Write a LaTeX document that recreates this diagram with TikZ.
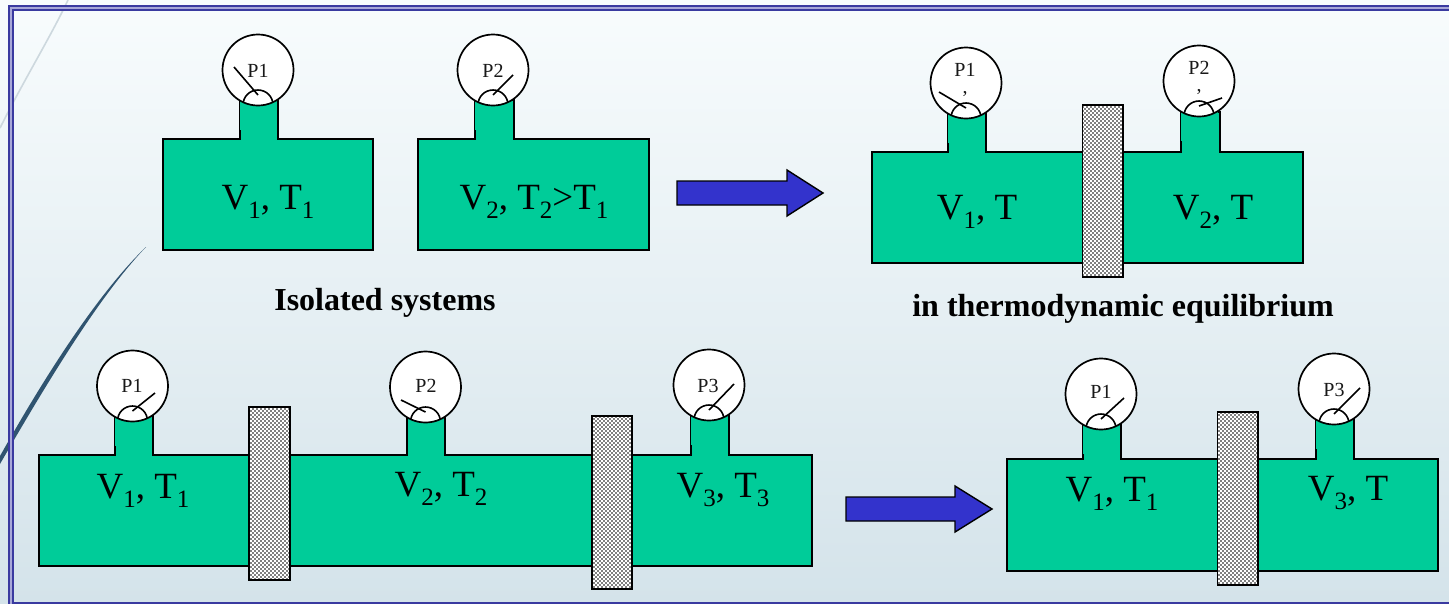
\documentclass[tikz,border=0pt]{standalone}
\usepackage{fontspec}
\setmainfont{Liberation Serif}
\usetikzlibrary{patterns}
\definecolor{gasgreen}{HTML}{00CC99}
\definecolor{framebl}{HTML}{3A3AA0}
\definecolor{framelt}{HTML}{A8A8D8}
\definecolor{arrowbl}{HTML}{3333CC}
\pgfdeclarepatternformonly{walldots}{\pgfqpoint{0pt}{0pt}}{\pgfqpoint{4.4pt}{4.4pt}}{\pgfqpoint{4.4pt}{4.4pt}}{%
 \pgfpathrectangle{\pgfqpoint{0.1pt}{0.1pt}}{\pgfqpoint{2.1pt}{2.1pt}}%
 \pgfpathrectangle{\pgfqpoint{2.3pt}{2.3pt}}{\pgfqpoint{2.1pt}{2.1pt}}%
 \pgfusepath{fill}}
\tikzset{
 vessel/.style={draw=black,line width=1.8pt,fill=gasgreen,line join=miter},
 dialc/.style={circle,draw=black,line width=1.7pt,fill=white,minimum size=71pt,inner sep=0pt},
 needlel/.style={draw=black,line width=1.6pt},
 gaugetxt/.style={font=\fontsize{20}{17}\selectfont,inner sep=0pt,text=black!90,align=center},
 bigtxt/.style={font=\fontsize{37}{38}\selectfont,inner sep=0pt,text=black},
 boldtxt/.style={font=\bfseries\fontsize{32}{34}\selectfont,inner sep=0pt,text=black},
 barrier/.style={rectangle,draw=black,line width=1.9pt,inner sep=0pt,preaction={fill=black!50},preaction={pattern=walldots,pattern color=white}},
 bigarrow/.style={draw=black,line width=1.4pt,fill=arrowbl,line join=miter},
}
\newcommand{\subs}[1]{\raisebox{-.24em}{\fontsize{25}{26}\selectfont #1}}
\newcommand{\gaugeat}[8]{%
 \fill[gasgreen] (#2-18,#3+20) rectangle (#2+18.5,#3+60);
 \node[dialc] (#1) at (#2,#3) {};
 \begin{scope}
  \clip (#2,#3) circle (35.5);
  \draw[black,line width=1.6pt] (#2,#3+35) circle (15);
 \end{scope}
 \coordinate (#1pivot) at (#2,#3+25);
 \coordinate (#1tip) at (#4,#5);
 \draw[needlel] (#1pivot) -- (#1tip);
 \node[gaugetxt] (#1txt) at (#6,#7) {#8};
}
\begin{document}
\begin{tikzpicture}[x=1pt,y=-1pt]
\useasboundingbox (0,0) rectangle (1449,603);
\shade[top color={rgb,255:red,248;green,252;blue,253},bottom color={rgb,255:red,212;green,227;blue,234}] (0,0) rectangle (1449,603);
% decorative curves
\coordinate (c1a) at (68,0); \coordinate (c1b) at (0,128);
\draw[color={rgb,255:red,205;green,216;blue,222},line width=1.6pt] (c1a) .. controls (50,38) and (25,78) .. (c1b);
\coordinate (c2a) at (146,247); \coordinate (c2b) at (0,464);
\fill[color={rgb,255:red,48;green,84;blue,112}] (c2a) .. controls (100,295) and (48,381) .. (c2b) -- (0,456) .. controls (45,376) and (98,293) .. (c2a);
% frame
\draw[framebl,line width=6pt] (11,8) rectangle (1452,604.5);
\draw[framelt,line width=2pt] (11,8) rectangle (1452,604.5);
% top left
\draw[vessel] (163,139) -- (240,139) -- (240,100) -- (278,100) -- (278,139) -- (373,139) -- (373,250) -- (163,250) -- cycle;
\gaugeat{ga}{258}{70}{234}{67}{258}{71}{P1}
\node[bigtxt] (ta) at (268,202) {V\subs{1}, T\subs{1}};
\draw[vessel] (418,139) -- (475,139) -- (475,100) -- (514,100) -- (514,139) -- (649,139) -- (649,250) -- (418,250) -- cycle;
\gaugeat{gb}{493}{70}{513}{75}{493}{71}{P2}
\node[bigtxt] (tb) at (534,202) {V\subs{2}, T\subs{2}>T\subs{1}};
\draw[bigarrow] (677,181) -- (787,181) -- (787,170) -- (823,193) -- (787,216) -- (787,205) -- (677,205) -- cycle;
% top right
\draw[vessel] (872,152) -- (948,152) -- (948,112) -- (986,112) -- (986,152) -- (1181,152) -- (1181,112) -- (1220,112) -- (1220,152) -- (1303,152) -- (1303,263) -- (872,263) -- cycle;
\gaugeat{gc}{966}{83}{939}{92}{965}{80}{P1\\,}
\gaugeat{gd}{1199}{81}{1222}{98}{1199}{78}{P2\\,}
\node[barrier,minimum width=40.5pt,minimum height=172pt] (wa) at (1102.75,191) {};
\node[bigtxt] (tc) at (977,212) {V\subs{1}, T};
\node[bigtxt] (td) at (1213,212) {V\subs{2}, T};
\node[boldtxt] (la) at (385,303) {Isolated systems};
\node[boldtxt] (lb) at (1123,309) {in thermodynamic equilibrium};
% bottom left
\draw[vessel] (39,455) -- (115,455) -- (115,415) -- (153,415) -- (153,455) -- (407,455) -- (407,415) -- (445,415) -- (445,455) -- (691,455) -- (691,413) -- (729,413) -- (729,455) -- (812,455) -- (812,566) -- (39,566) -- cycle;
\gaugeat{ge}{132.5}{386}{155}{393}{132}{386}{P1}
\gaugeat{gf}{425.5}{387}{401}{400}{426}{386}{P2}
\gaugeat{gg}{709}{385}{734}{384}{708}{386}{P3}
\node[barrier,minimum width=41pt,minimum height=173pt] (wb) at (269.5,493.5) {};
\node[barrier,minimum width=40pt,minimum height=173pt] (wc) at (612,502.5) {};
\node[bigtxt] (te) at (143,491) {V\subs{1}, T\subs{1}};
\node[bigtxt] (tf) at (441,489) {V\subs{2}, T\subs{2}};
\node[bigtxt] (tg) at (723,490) {V\subs{3}, T\subs{3}};
\draw[bigarrow] (846,497) -- (955,497) -- (955,486) -- (992,509) -- (955,532) -- (955,521) -- (846,521) -- cycle;
% bottom right
\draw[vessel] (1007,459) -- (1083,459) -- (1083,420) -- (1121,420) -- (1121,459) -- (1316,459) -- (1316,420) -- (1354,420) -- (1354,459) -- (1438,459) -- (1438,571) -- (1007,571) -- cycle;
\gaugeat{gh}{1101}{394}{1124}{398}{1101}{392}{P1}
\gaugeat{gi}{1334}{389}{1360}{388}{1334}{390}{P3}
\node[barrier,minimum width=40.5pt,minimum height=173pt] (wd) at (1237.75,498.5) {};
\node[bigtxt] (th) at (1112,494) {V\subs{1}, T\subs{1}};
\node[bigtxt] (ti) at (1348,493) {V\subs{3}, T};
\end{tikzpicture}
\end{document}
